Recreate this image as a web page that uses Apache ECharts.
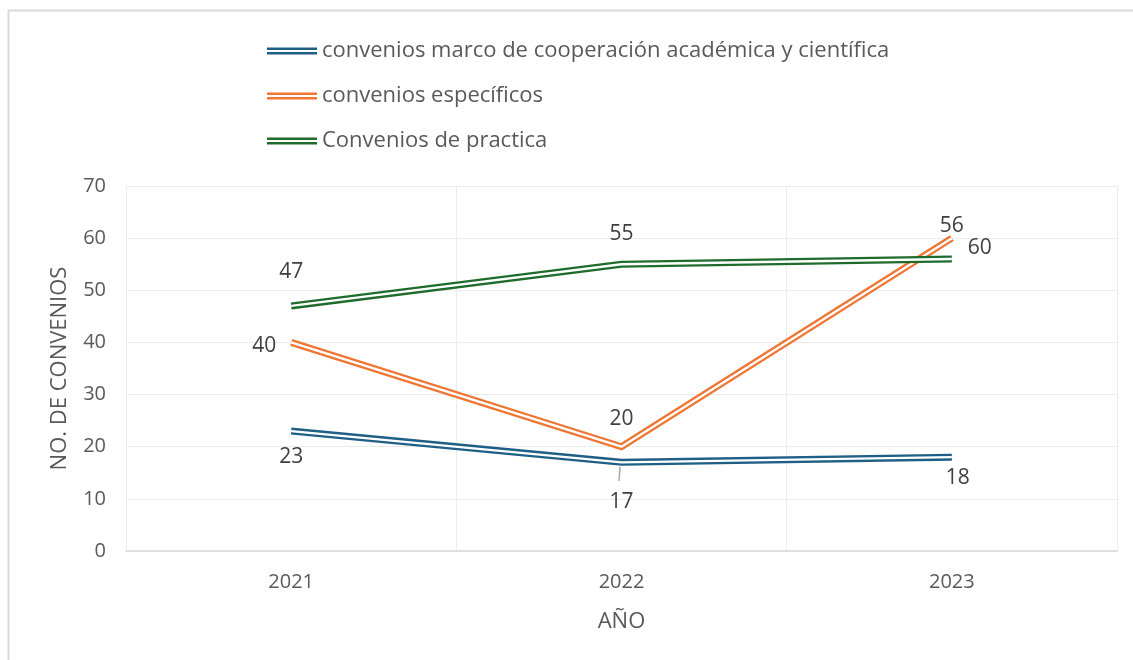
<!DOCTYPE html>
<html>
<head>
<meta charset="utf-8">
<title>Convenios por año</title>
<script src="https://cdn.jsdelivr.net/npm/echarts@6/dist/echarts.min.js"></script>
<style>
  html, body { margin: 0; padding: 0; background: #ffffff; }
  #chart { width: 1133px; height: 660px; }
</style>
</head>
<body>
<div id="chart"></div>
<script>
// Years on the category axis
const years = ['2021', '2022', '2023'];

// Number of agreements per type
const marcoValues = [23, 17, 18];
const especificosValues = [40, 20, 60];
const practicaValues = [47, 55, 56];

const seriesNames = [
  'convenios marco de cooperación académica y científica',
  'convenios específicos',
  'Convenios de practica'
];

const yTicks = { min: 0, max: 70, interval: 10 };

const colors = ['#1f5f86', '#ef7533', '#1e6b2c'];
const textColor = '#595959';
const fontFamily = '"Open Sans", "Liberation Sans", Arial, sans-serif';

// Double-stroke legend glyph: two thin bars with a gap
const doubleIcon = 'path://M0,0H50V2.4H0Z M0,4.6H50V7H0Z';

// Per-point label placement for each series
const labelPlacement = [
  [ { position: 'bottom', distance: 15 }, { position: 'bottom', distance: 29 }, { position: 'bottom', distance: 10, offset: [6, 0] } ],
  [ { position: 'left', distance: 15, offset: [0, 4] }, { position: 'top', distance: 17 }, { position: 'right', distance: 16, offset: [0, 10] } ],
  [ { position: 'top', distance: 23 }, { position: 'top', distance: 20 }, { position: 'top', distance: 22 } ]
];

const valueSets = [marcoValues, especificosValues, practicaValues];

const series = [];
valueSets.forEach((vals, i) => {
  // Outer coloured stroke
  series.push({
    name: seriesNames[i],
    type: 'line',
    data: vals.map((v, j) => ({
      value: v,
      label: Object.assign({ show: true }, labelPlacement[i][j])
    })),
    symbol: 'circle',
    symbolSize: 0,
    showSymbol: true,
    z: 3 + i * 2,
    lineStyle: { color: colors[i], width: 7, cap: 'butt', join: 'miter' },
    itemStyle: { color: colors[i] },
    label: {
      show: true,
      color: '#404040',
      fontSize: 21,
      fontFamily: fontFamily
    },
    emphasis: { disabled: true }
  });
  // White core that splits the stroke into two lines
  series.push({
    name: seriesNames[i] + ' core',
    type: 'line',
    data: vals,
    symbol: 'none',
    z: 4 + i * 2,
    lineStyle: { color: '#ffffff', width: 2.4, cap: 'butt', join: 'miter' },
    emphasis: { disabled: true },
    silent: true
  });
});

const chart = echarts.init(document.getElementById('chart'), null, { renderer: 'canvas' });

chart.setOption({
  backgroundColor: '#ffffff',
  animation: false,
  textStyle: { fontFamily: fontFamily, color: textColor },
  graphic: [
    {
      type: 'rect',
      shape: { x: 8.5, y: 10.5, width: 1200, height: 700 },
      style: { fill: 'none', stroke: '#d9d9d9', lineWidth: 2 },
      silent: true,
      z: -1
    },
    {
      // leader line for the 2022 label of the first series
      type: 'line',
      shape: { x1: 620, y1: 467, x2: 619, y2: 481 },
      style: { stroke: '#a6a6a6', lineWidth: 1.5 },
      silent: true
    }
  ],
  legend: {
    data: seriesNames.map(n => ({ name: n, icon: doubleIcon })),
    orient: 'vertical',
    left: 262,
    top: 35,
    itemWidth: 50,
    itemHeight: 7,
    itemGap: 23,
    textStyle: { color: textColor, fontSize: 22, fontFamily: fontFamily },
    selectedMode: false
  },
  grid: { left: 126, right: 16, top: 186, bottom: 109, containLabel: false },
  xAxis: {
    type: 'category',
    data: years,
    boundaryGap: true,
    name: 'AÑO',
    nameLocation: 'middle',
    nameGap: 60,
    nameTextStyle: { color: textColor, fontSize: 22, fontFamily: fontFamily },
    axisLine: { show: true, lineStyle: { color: '#d9d9d9', width: 1.5 } },
    axisTick: { show: false },
    axisLabel: { color: textColor, fontSize: 20, fontFamily: fontFamily, margin: 21 },
    splitLine: { show: true, lineStyle: { color: '#ececec', width: 1 } }
  },
  yAxis: {
    type: 'value',
    min: yTicks.min,
    max: yTicks.max,
    interval: yTicks.interval,
    name: 'NO. DE CONVENIOS',
    nameLocation: 'middle',
    nameGap: 55,
    nameRotate: 90,
    nameTextStyle: { color: textColor, fontSize: 22, fontFamily: fontFamily },
    axisLine: { show: false },
    axisTick: { show: false },
    axisLabel: { color: textColor, fontSize: 20, fontFamily: fontFamily, margin: 20 },
    splitLine: { show: true, lineStyle: { color: '#ececec', width: 1 } }
  },
  series: series
});
</script>
</body>
</html>
